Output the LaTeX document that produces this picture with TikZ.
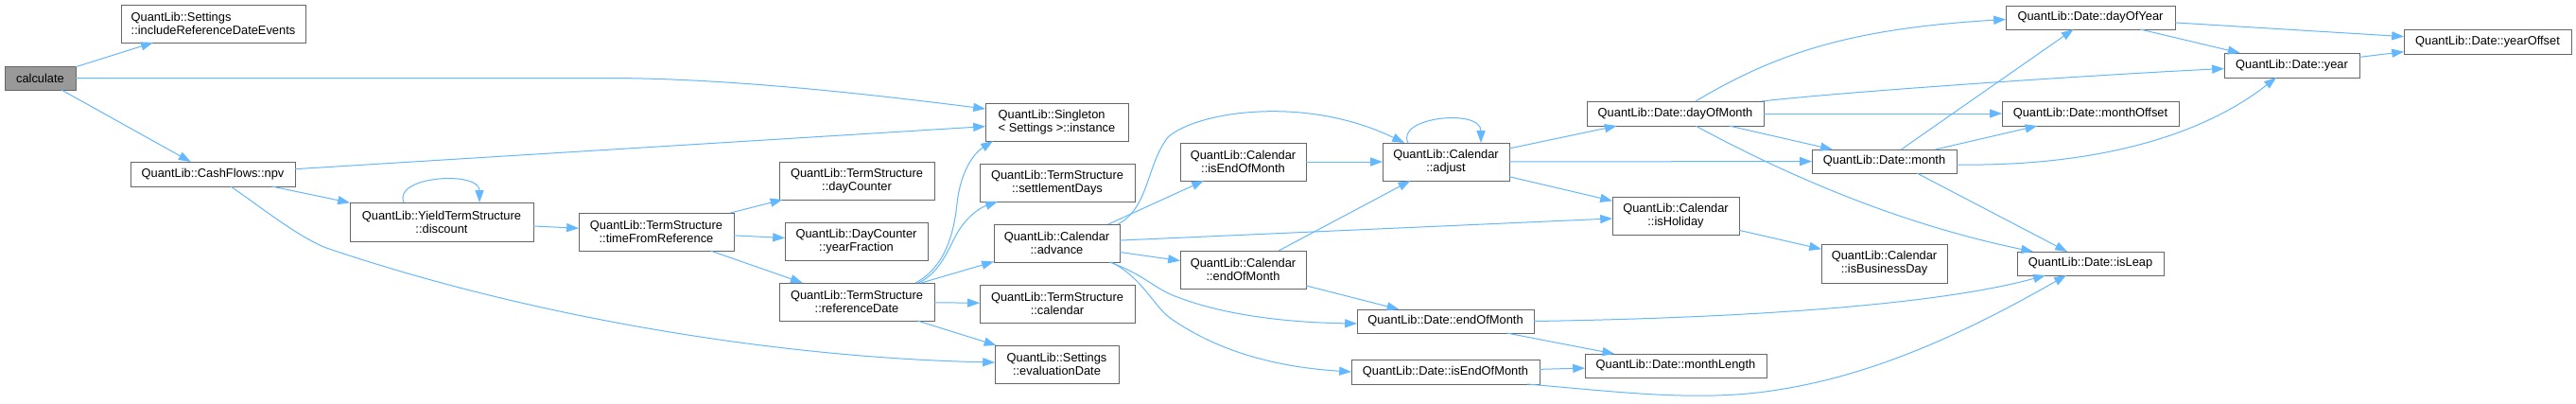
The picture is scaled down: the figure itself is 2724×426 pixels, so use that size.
\documentclass[tikz,border=0pt]{standalone}
\usepackage{fontspec}
\setmainfont{Liberation Sans}
\usetikzlibrary{arrows.meta}
\definecolor{edgec}{HTML}{63B8FF}
\definecolor{boxc}{HTML}{666666}
\definecolor{hilite}{HTML}{999999}
\tikzset{
  box/.style={draw=boxc, line width=0.75pt, fill=white, inner sep=0pt, outer sep=0pt,
    align=center, font=\fontsize{9.64pt}{10.6pt}\selectfont},
  edge/.style={draw=edgec, line width=0.75pt, -{Triangle[length=9.6pt,width=6.8pt]}},
}
\newcommand\qlnode[7][]{\node[box,#1,minimum width={(#5-#3)*0.75pt},minimum height={(#6-#4)*0.75pt}] (#2) at ({(#3+#5)/2},{(#4+#6)/2}) {#7};}
\begin{document}
\begin{tikzpicture}[x=0.75pt,y=-0.75pt]
\fill[white] (0,0) rectangle (2724,426);
% nodes
\qlnode[fill=hilite]{calc}{5}{70}{80}{95}{calculate}
\qlnode[align=left]{incl}{128}{5}{323}{45}{QuantLib::Settings\\::includeReferenceDateEvents}
\qlnode{npv}{138}{171}{312}{197}{QuantLib::CashFlows::npv}
\qlnode{disc}{370}{214}{564}{255}{QuantLib::YieldTermStructure\\::discount}
\qlnode{tfr}{612}{225}{776}{265}{QuantLib::TermStructure\\::timeFromReference}
\qlnode{dc}{824}{171}{988}{211}{QuantLib::TermStructure\\::dayCounter}
\qlnode{yf}{830}{235}{981}{275}{QuantLib::DayCounter\\::yearFraction}
\qlnode{rd}{824}{299}{988}{339}{QuantLib::TermStructure\\::referenceDate}
\qlnode[align=left]{sing}{1042}{109}{1193}{149}{QuantLib::Singleton\\< Settings >::instance}
\qlnode{sd}{1036}{173}{1200}{213}{QuantLib::TermStructure\\::settlementDays}
\qlnode{adv}{1051}{237}{1184}{277}{QuantLib::Calendar\\::advance}
\qlnode{cal}{1036}{301}{1200}{341}{QuantLib::TermStructure\\::calendar}
\qlnode{ed}{1052}{365}{1183}{405}{QuantLib::Settings\\::evaluationDate}
\qlnode{ceom}{1248}{151}{1381}{191}{QuantLib::Calendar\\::isEndOfMonth}
\qlnode{adj}{1462}{151}{1596}{191}{QuantLib::Calendar\\::adjust}
\qlnode{cend}{1248}{265}{1381}{305}{QuantLib::Calendar\\::endOfMonth}
\qlnode{deom}{1435}{327}{1622}{352}{QuantLib::Date::endOfMonth}
\qlnode{diseom}{1429}{380}{1628}{406}{QuantLib::Date::isEndOfMonth}
\qlnode{dom}{1678}{107}{1865}{133}{QuantLib::Date::dayOfMonth}
\qlnode{mon}{1916}{158}{2069}{183}{QuantLib::Date::month}
\qlnode{hol}{1705}{208}{1839}{248}{QuantLib::Calendar\\::isHoliday}
\qlnode{bus}{1926}{258}{2059}{299}{QuantLib::Calendar\\::isBusinessDay}
\qlnode{ml}{1676}{374}{1868}{399}{QuantLib::Date::monthLength}
\qlnode{doy}{2121}{6}{2300}{31}{QuantLib::Date::dayOfYear}
\qlnode{mo}{2117}{107}{2304}{133}{QuantLib::Date::monthOffset}
\qlnode{yr}{2352}{56}{2495}{82}{QuantLib::Date::year}
\qlnode{leap}{2133}{266}{2288}{291}{QuantLib::Date::isLeap}
\qlnode{yo}{2542}{31}{2719}{57}{QuantLib::Date::yearOffset}
% edges
\draw[edge] (calc) -- (incl);
\draw[edge] (calc.east) -- (640,82.5) .. controls (760,82.5) and (900,97) .. ([shift={(0,6)}]sing.north west);
\draw[edge] (calc) -- (npv);
\draw[edge] (npv) -- (sing);
\draw[edge] (npv) -- (disc);
\draw[edge] ([shift={(106,0)}]npv.south west) .. controls (280,222) and (315,250) .. (345,262) .. controls (560,335) and (820,378) .. ([shift={(0,18)}]ed.north west);
\draw[edge] ([shift={(57,0)}]disc.north west) .. controls (415,186) and (507,180) .. ([shift={(137,0)}]disc.north west);
\draw[edge] (disc) -- (tfr);
\draw[edge] (tfr) -- (dc);
\draw[edge] (tfr) -- (yf);
\draw[edge] (tfr) -- (rd);
\draw[edge] ([shift={(144,0)}]rd.north west) .. controls (995,285) and (1008,255) .. (1012,215) .. controls (1016,180) and (1030,162) .. ([shift={(8,0)}]sing.south west);
\draw[edge] ([shift={(147,0)}]rd.north west) .. controls (995,288) and (1003,262) .. (1013,245) .. controls (1022,230) and (1035,220) .. ([shift={(19,0)}]sd.south west);
\draw[edge] (rd) -- (adv);
\draw[edge] (rd) -- (cal);
\draw[edge] (rd) -- (ed);
\draw[edge] ([shift={(-2,0)}]adv.north east) .. controls (1215,220) and (1212,175) .. (1235,145) .. controls (1265,118) and (1380,100) .. ([shift={(23,0)}]adj.north west);
\draw[edge] ([shift={(-12,0)}]adv.north east) -- ([shift={(25,0)}]ceom.south west);
\draw[edge] (adv) -- (hol);
\draw[edge] (adv) -- (cend);
\draw[edge] ([shift={(-11,0)}]adv.south east) .. controls (1210,290) and (1220,305) .. (1245,314) .. controls (1300,335) and (1370,341) .. ([shift={(0,15)}]deom.north west);
\draw[edge] ([shift={(-9,0)}]adv.south east) .. controls (1210,295) and (1220,325) .. (1240,338) .. controls (1290,372) and (1350,388) .. (diseom.west);
\draw[edge] (ceom) -- (adj);
\draw[edge] (cend) -- (adj);
\draw[edge] (cend) -- (deom);
\draw[edge] ([shift={(27,0)}]adj.north west) .. controls (1475,124) and (1566,114) .. ([shift={(104,0)}]adj.north west);
\draw[edge] (adj) -- (dom);
\draw[edge] (adj) -- (mon);
\draw[edge] (adj) -- (hol);
\draw[edge] (deom.east) .. controls (1850,336) and (2050,322) .. ([shift={(30,0)}]leap.south west);
\draw[edge] (deom) -- (ml);
\draw[edge] (diseom) -- (ml);
\draw[edge] ([shift={(-13,0)}]diseom.south east) .. controls (1720,415) and (1800,425) .. (1880,412) .. controls (1990,395) and (2090,345) .. ([shift={(52,0)}]leap.south west);
\draw[edge] ([shift={(115,0)}]dom.north west) .. controls (1880,55) and (1960,30) .. ([shift={(0,14.5)}]doy.north west);
\draw[edge] ([shift={(185,0)}]dom.north west) .. controls (1950,97) and (2200,80) .. ([shift={(0,16.5)}]yr.north west);
\draw[edge] (dom) -- (mo);
\draw[edge] (dom) -- (mon);
\draw[edge] ([shift={(115,0)}]dom.south west) .. controls (1880,180) and (2000,235) .. ([shift={(17,0)}]leap.north west);
\draw[edge] (mon) -- (doy);
\draw[edge] (mon) -- (mo);
\draw[edge] ([shift={(153,16)}]mon.north west) .. controls (2200,176) and (2320,150) .. ([shift={(55,0)}]yr.south west);
\draw[edge] ([shift={(111,0)}]mon.south west) -- ([shift={(53,0)}]leap.north west);
\draw[edge] (hol) -- (bus);
\draw[edge] (doy) -- (yo);
\draw[edge] (doy) -- (yr);
\draw[edge] (yr) -- (yo);
\end{tikzpicture}
\end{document}
